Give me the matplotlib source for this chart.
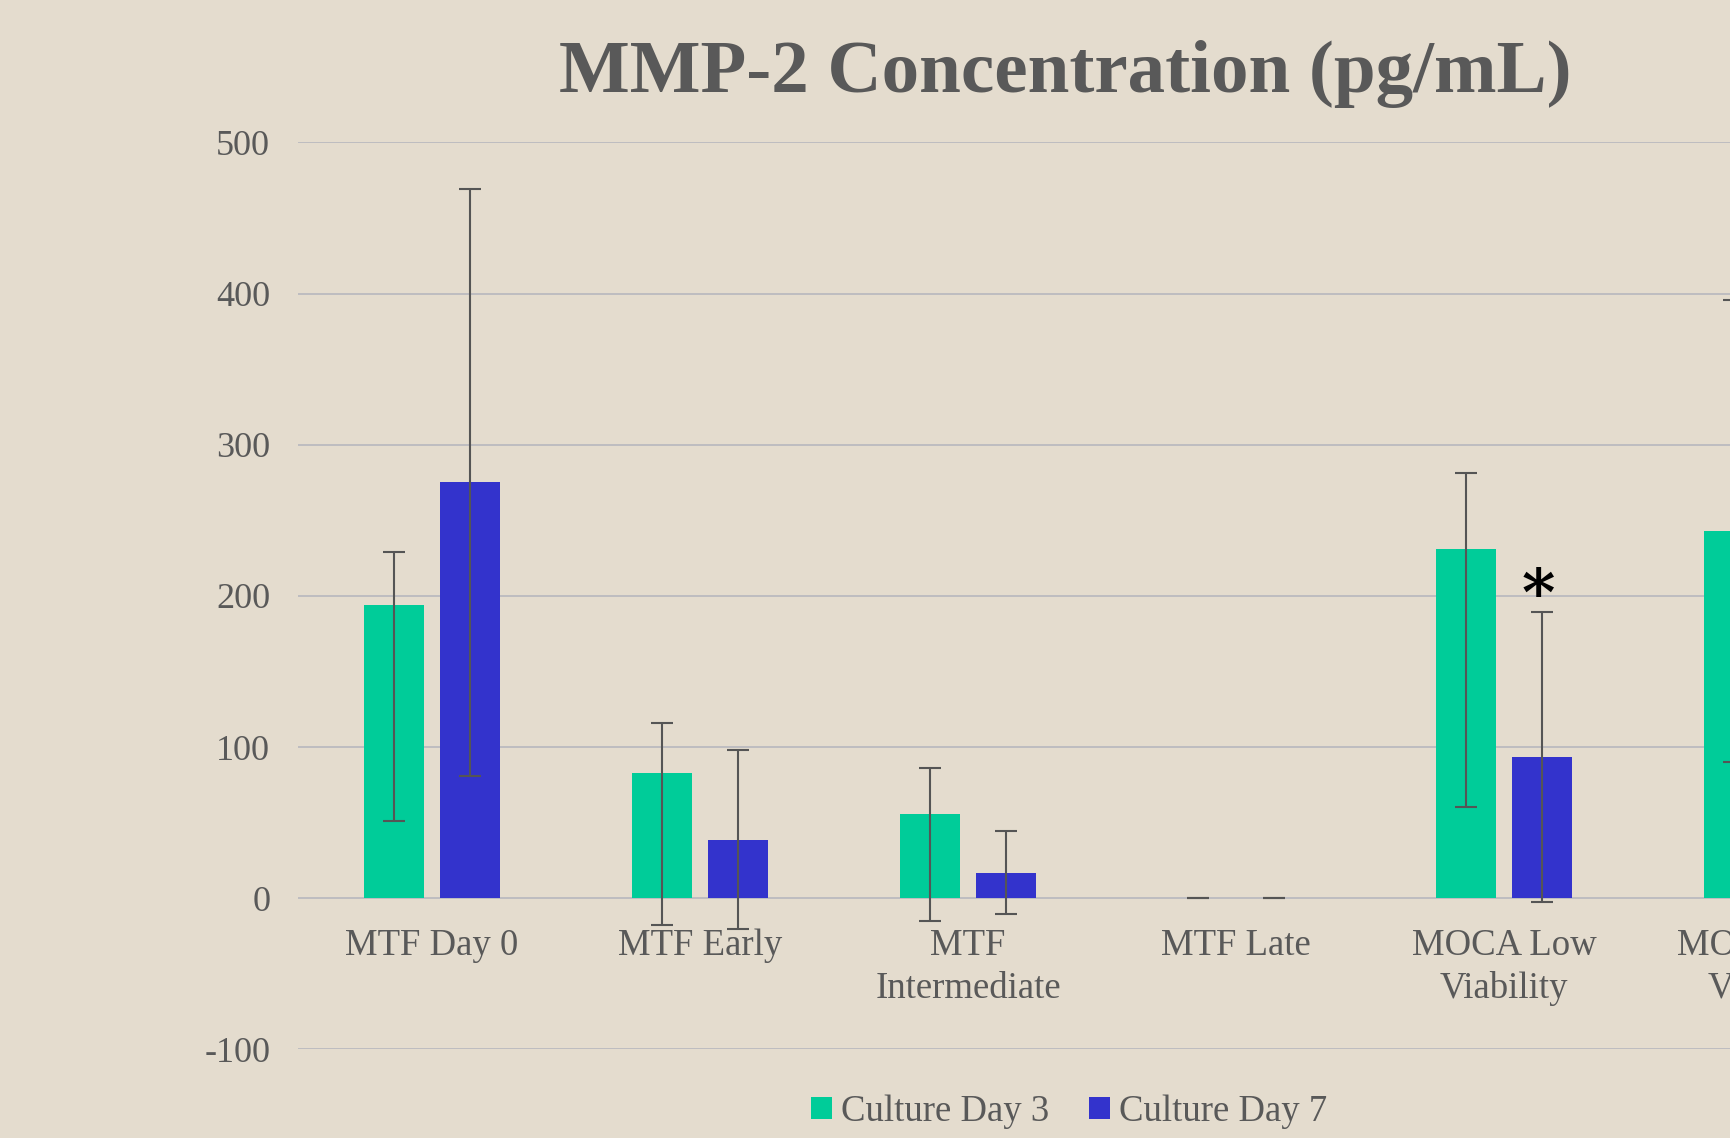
import matplotlib
matplotlib.use("Agg")
import matplotlib.pyplot as plt
import numpy as np
from matplotlib.patches import Patch

categories = ["MTF Day 0", "MTF Early", "MTF\nIntermediate", "MTF Late",
              "MOCA Low\nViability", "MOCA High\nViability"]
day3 = [194, 82.5, 56, 0, 231, 243]
day3_err_lo = [143, 100, 71, 0, 171, 153]
day3_err_hi = [35, 33.5, 30, 0, 50, 153]
day7 = [275, 38.7, 16.8, 0, 93.4, 150]
day7_err = [194, 59, 27.5, 0, 96, 100]
yticks = [-100, 0, 100, 200, 300, 400, 500]
series_names = ["Culture Day 3", "Culture Day 7"]

GREEN = "#00CC99"
BLUE = "#3333CC"
TXT = "#595959"
BG = "#E4DCCE"
FONT = "Liberation Serif"

fig = plt.figure(figsize=(17.3, 11.38), dpi=100, facecolor=BG)
ax = fig.add_axes([0.1723, 0.0779, 0.9295, 0.797])
ax.set_facecolor(BG)

x = np.arange(len(categories))
w = 0.222
off = 0.142
ekw = dict(ecolor="#555555", elinewidth=1.5, capsize=8, capthick=1.5)
ax.bar(x - off, day3, w, color=GREEN, zorder=3,
       yerr=[day3_err_lo, day3_err_hi], error_kw=ekw)
ax.bar(x + off, day7, w, color=BLUE, zorder=3,
       yerr=[day7_err, day7_err], error_kw=ekw)

ax.set_xlim(-0.5, len(categories) - 0.5)
ax.set_ylim(-100, 500)
ax.set_yticks(yticks)
ax.set_yticklabels([str(t) for t in yticks], fontfamily=FONT, fontsize=26, color=TXT)
ax.tick_params(axis="y", length=0, pad=20)
ax.set_xticks([])
ax.grid(axis="y", color="#BDBDC0", linewidth=1.4, zorder=0)
ax.set_axisbelow(True)
for s in ax.spines.values():
    s.set_visible(False)

for i, c in enumerate(categories):
    ax.annotate(c, xy=(i, 0), xytext=(0, -22), textcoords="offset points",
                ha="center", va="top", fontfamily=FONT, fontsize=26.5,
                color=TXT, linespacing=1.3, annotation_clip=False)

ax.annotate("*", xy=(4 + off, 199), xytext=(-3, 0), textcoords="offset points",
            ha="center", va="center", fontfamily="DejaVu Serif", fontsize=46,
            fontweight="bold", color="black")

fig.text(0.616, 0.935, "MMP-2 Concentration (pg/mL)", ha="center", va="center",
         fontfamily=FONT, fontsize=54, fontweight="bold", color=TXT)

handles = [Patch(facecolor=GREEN), Patch(facecolor=BLUE)]
leg = fig.legend(handles, series_names, loc="center", bbox_to_anchor=(0.618, 0.023),
                 ncol=2, frameon=False, handlelength=0.55, handleheight=0.55,
                 handletextpad=0.25, columnspacing=1.1,
                 prop={"family": FONT, "size": 26.5})
for t in leg.get_texts():
    t.set_color(TXT)

fig.savefig("out.png", dpi=100, facecolor=BG)
